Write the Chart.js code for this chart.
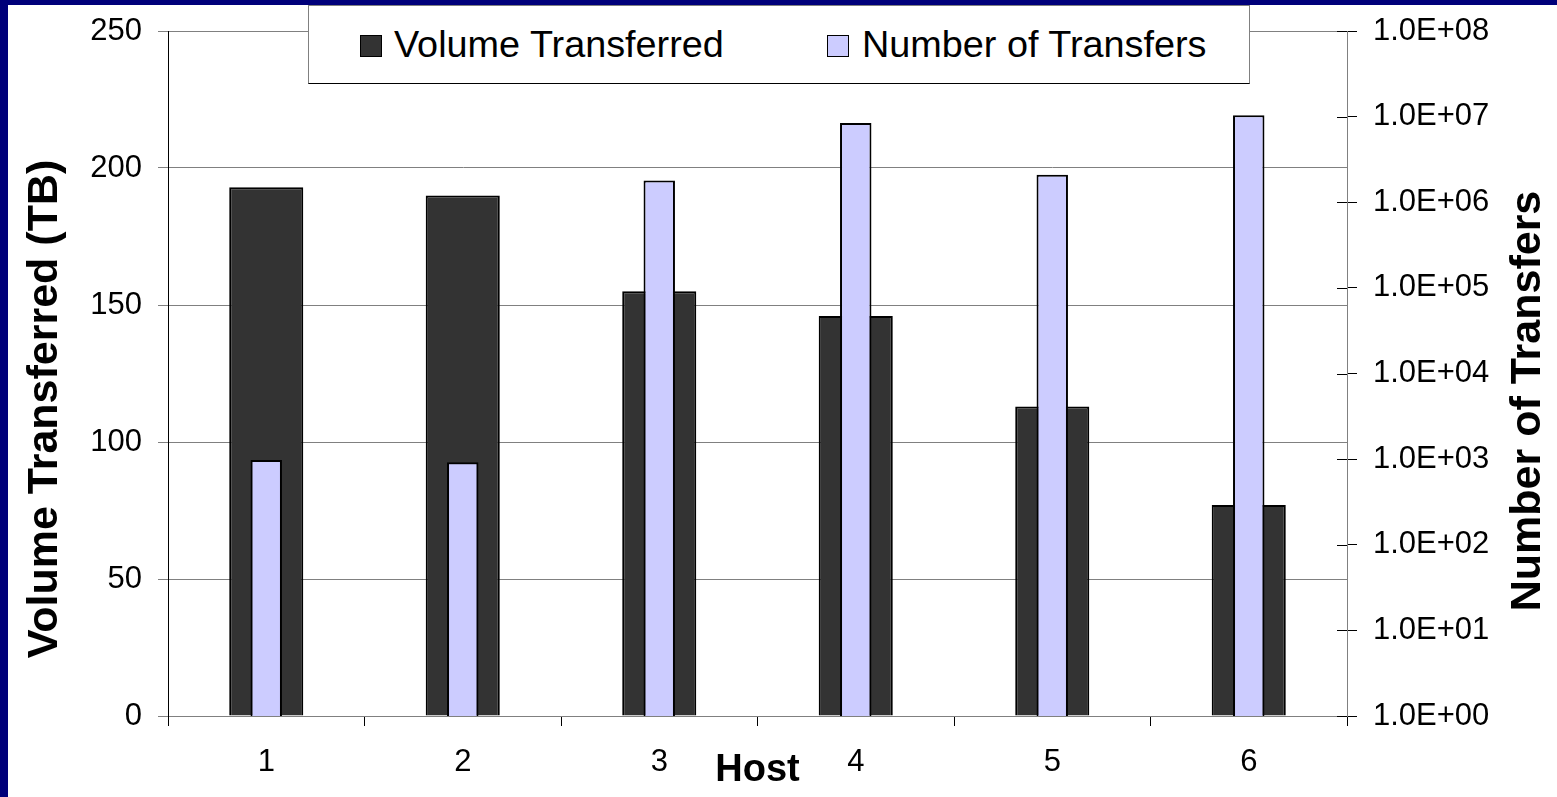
<!DOCTYPE html>
<html>
<head>
<meta charset="utf-8">
<title>Volume Transferred / Number of Transfers per Host</title>
<script src="https://cdn.jsdelivr.net/npm/chart.js@4.4.1/dist/chart.umd.min.js"></script>
<style>
    html, body { margin: 0; padding: 0; }
    body {
        width: 1557px; height: 797px; overflow: hidden; position: relative;
        background: #00007a;
        font-family: 'Liberation Sans', Arial, sans-serif;
    }
    #panel { position: absolute; left: 8px; top: 5px; width: 1549px; height: 792px; background: #fff; }
    #chart { position: absolute; left: 0; top: 0; }
    #legend {
        position: absolute; left: 300px; top: 0; width: 940px; height: 77px;
        background: #fff; border: 1px solid #808080; border-bottom-color: #000;
    }
    .item { position: absolute; top: 0; height: 77px; }
    .swatch { position: absolute; top: 29px; width: 20px; height: 20px; border: 1px solid #000; }
    .label { position: absolute; top: 20px; font-size: 37.8px; line-height: 37px; color: #000; white-space: nowrap; }
</style>
</head>
<body>
<div id="panel">
    <canvas id="chart" width="1549" height="792"></canvas>
    <div id="legend"></div>
</div>
<script>
// ---- data ----
const hosts = ['1', '2', '3', '4', '5', '6'];
const volumeTB = [193, 190, 155, 146, 113, 77];
const transfers = [980, 920, 1.8e6, 8.4e6, 2.1e6, 1.04e7];
const volumeTicks = [0, 50, 100, 150, 200, 250];
const transferTicks = [1e0, 1e1, 1e2, 1e3, 1e4, 1e5, 1e6, 1e7, 1e8];

const colors = {
    volume: '#333333',
    transfers: '#ccccff',
    grid: '#808080',
    text: '#000000'
};

const FONT = "'Liberation Sans', Arial, sans-serif";
Chart.defaults.font.family = FONT;
Chart.defaults.color = colors.text;

// 1.0E+08 style labels
const sci = (v) => {
    const [m, e] = v.toExponential(1).split('e');
    const n = parseInt(e, 10);
    return m.toUpperCase() + 'E' + (n < 0 ? '-' : '+') + String(Math.abs(n)).padStart(2, '0');
};

// vertical axes: fixed width, no extra label padding pushing the plot down
const fixVertical = (width) => (s) => {
    s.width = width;
    s.paddingTop = 0;
    s.paddingBottom = 0;
};

// rotated side titles (placed like the original, a bit below the plot centre)
const sideTitles = {
    id: 'sideTitles',
    afterDraw(chart) {
        const { ctx } = chart;
        const items = [
            { text: 'Volume Transferred (TB)', x: 37, y: 404 },
            { text: 'Number of Transfers', x: 1520, y: 396 }
        ];
        ctx.save();
        ctx.font = 'bold 43px ' + FONT;
        ctx.fillStyle = colors.text;
        ctx.textAlign = 'center';
        ctx.textBaseline = 'middle';
        items.forEach(t => {
            ctx.save();
            ctx.translate(t.x, t.y);
            ctx.rotate(-Math.PI / 2);
            ctx.fillText(t.text, 0, 0);
            ctx.restore();
        });
        ctx.restore();
    }
};

// right axis ticks cross the axis line (inner half)
const crossTicks = {
    id: 'crossTicks',
    afterDatasetsDraw(chart) {
        const { ctx } = chart;
        const s = chart.scales.y1;
        ctx.save();
        ctx.strokeStyle = '#000';
        ctx.lineWidth = 1;
        ctx.beginPath();
        s.ticks.forEach(t => {
            const y = Math.round(s.getPixelForValue(t.value)) + 0.5;
            ctx.moveTo(s.left - 10, y);
            ctx.lineTo(s.left, y);
        });
        ctx.stroke();
        ctx.restore();
    }
};

const chart = new Chart(document.getElementById('chart'), {
    type: 'bar',
    data: {
        labels: hosts,
        datasets: [
            {
                label: 'Volume Transferred',
                data: volumeTB,
                yAxisID: 'y',
                backgroundColor: colors.volume,
                borderColor: '#000',
                borderWidth: 2,
                grouped: false,
                categoryPercentage: 1,
                barPercentage: 0.377,
                order: 2
            },
            {
                label: 'Number of Transfers',
                data: transfers,
                yAxisID: 'y1',
                backgroundColor: colors.transfers,
                borderColor: '#000',
                borderWidth: 2,
                grouped: false,
                categoryPercentage: 1,
                barPercentage: 0.16,
                order: 1
            }
        ]
    },
    options: {
        responsive: false,
        animation: false,
        devicePixelRatio: 1,
        layout: { padding: { top: 26, left: 0, right: 0, bottom: 0 } },
        plugins: {
            legend: { display: false },
            tooltip: { enabled: false }
        },
        scales: {
            x: {
                offset: true,
                grid: { offset: true, drawOnChartArea: false, color: '#000', tickLength: 10 },
                border: { color: colors.grid },
                ticks: { font: { size: 31 }, color: colors.text, padding: 18 },
                title: {
                    display: true,
                    text: 'Host',
                    color: colors.text,
                    font: { size: 38, weight: 'bold' },
                    padding: { top: 0, bottom: 4 }
                },
                afterFit: (s) => { s.height = 81; }
            },
            y: {
                position: 'left',
                min: 0,
                max: 250,
                grid: { color: colors.grid, tickLength: 10 },
                border: { color: '#000' },
                ticks: { font: { size: 31 }, color: colors.text, padding: 16 },
                afterBuildTicks: (s) => { s.ticks = volumeTicks.map(v => ({ value: v })); },
                afterFit: fixVertical(160)
            },
            y1: {
                type: 'logarithmic',
                position: 'right',
                min: 1,
                max: 1e8,
                grid: { drawOnChartArea: false, color: '#000', tickLength: 10 },
                border: { color: colors.grid },
                ticks: { font: { size: 31 }, color: colors.text, padding: 16, callback: (v) => sci(v) },
                afterBuildTicks: (s) => { s.ticks = transferTicks.map(v => ({ value: v })); },
                afterFit: fixVertical(210)
            }
        }
    },
    plugins: [sideTitles, crossTicks]
});

// boxed legend over the top of the plot
const legendPos = [{ box: 51, text: 85 }, { box: 518, text: 553 }];
const legendEl = document.getElementById('legend');
chart.data.datasets.forEach((ds, i) => {
    const item = document.createElement('div');
    item.className = 'item';
    item.innerHTML =
        '<div class="swatch" style="left:' + legendPos[i].box + 'px;background:' + ds.backgroundColor + '"></div>' +
        '<div class="label" style="left:' + legendPos[i].text + 'px">' + ds.label + '</div>';
    legendEl.appendChild(item);
});
</script>
</body>
</html>
